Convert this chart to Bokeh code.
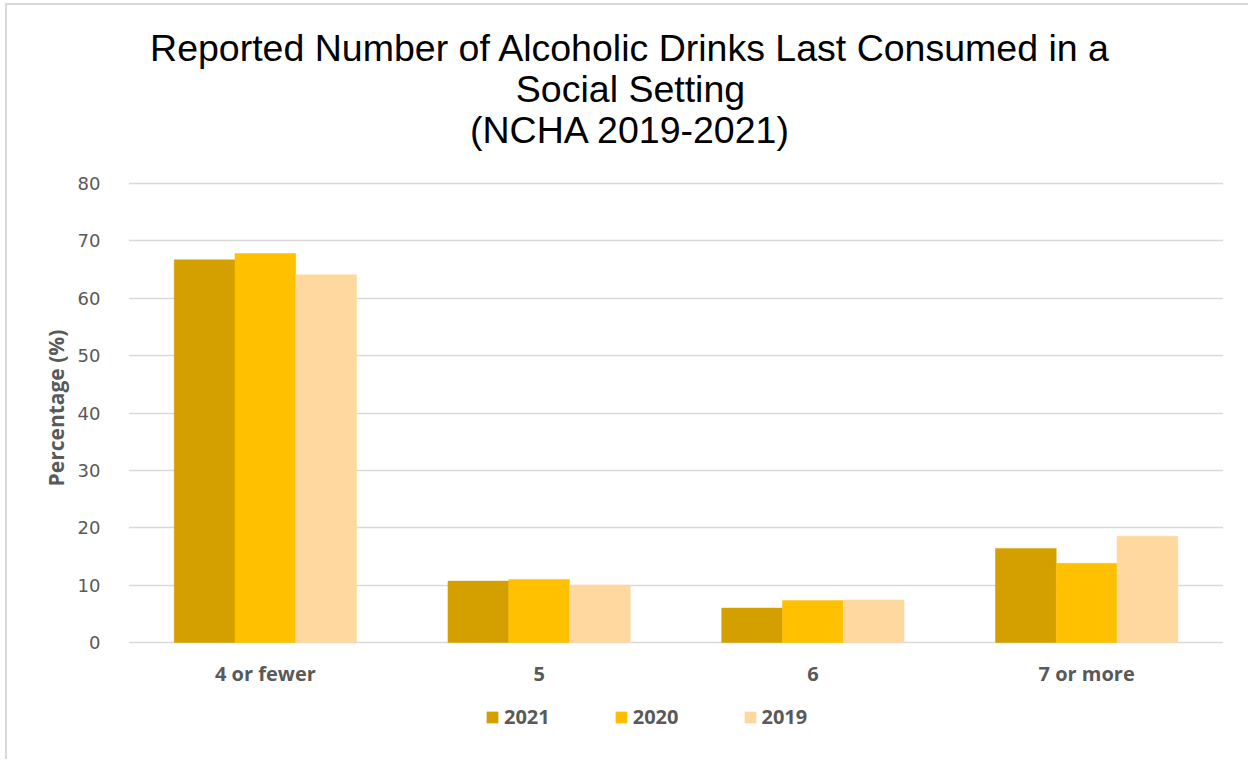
from bokeh.plotting import figure
from bokeh.models import (FactorRange, Range1d, FixedTicker, Legend, LegendItem,
                          Label, ColumnDataSource)
from bokeh.core.properties import value
from bokeh.transform import dodge
from bokeh.embed import file_html
from bokeh.resources import INLINE

categories = ["4 or fewer", "5", "6", "7 or more"]
series_names = ["2021", "2020", "2019"]
v2021 = [66.7, 10.7, 6.0, 16.4]
v2020 = [67.8, 11.0, 7.3, 13.8]
v2019 = [64.1, 10.0, 7.4, 18.5]
y_ticks = [0, 10, 20, 30, 40, 50, 60, 70, 80]
title_lines = ["Reported Number of Alcoholic Drinks Last Consumed in a",
               "Social Setting",
               "(NCHA 2019-2021)"]
y_label = "Percentage (%)"

colors = ["#D4A000", "#FFC000", "#FFD8A0"]

src = ColumnDataSource(dict(cat=categories, s2021=v2021, s2020=v2020, s2019=v2019,
                            base=[0] * len(categories)))

# frame spans the full height; y range chosen so 0..80 sits where the reference plot area is
px_per_unit = 459 / 80.0
y_start = -(756 - 637) / px_per_unit
y_end = 80 + 178 / px_per_unit

p = figure(width=1243, height=756, x_range=FactorRange(*categories),
           y_range=Range1d(y_start, y_end), output_backend="svg", toolbar_location=None,
           x_axis_location=None,
           min_border_left=121, min_border_right=27, min_border_top=0,
           min_border_bottom=0)
p.styles = {"position": "relative", "left": "7px", "top": "5px",
            "box-shadow": "-2px -2px 0 #d9d9d9"}
p.outline_line_color = None
p.background_fill_color = "white"
p.border_fill_color = "white"

cols = ["s2021", "s2020", "s2019"]
offsets = [-0.222, 0.0, 0.222]
renderers = []
for col, off, c in zip(cols, offsets, colors):
    r = p.vbar(x=dodge("cat", off, range=p.x_range), top=col, bottom=0, width=0.222,
               source=src, fill_color=c, line_color=c, line_width=0.5)
    renderers.append(r)

# grid
p.xgrid.grid_line_color = None
p.ygrid.grid_line_color = "#d9d9d9"
p.ygrid.grid_line_width = 1.3
p.yaxis.ticker = FixedTicker(ticks=y_ticks)
p.yaxis.bounds = (y_ticks[0], y_ticks[-1])

ax = p.yaxis[0]
ax.axis_line_color = None
ax.major_tick_line_color = None
ax.minor_tick_line_color = None
ax.major_label_text_color = "#595959"
ax.major_label_text_font = "DejaVu Sans"
ax.major_label_text_font_size = "18px"
ax.major_label_standoff = 22
# non-breaking spaces push the centred label down to the middle of the 0-80 area
ax.axis_label = y_label + "\u00a0" * 9
ax.axis_label_text_font = "Open Sans"
ax.axis_label_text_font_style = "bold"
ax.axis_label_text_font_size = "21px"
ax.axis_label_text_color = "#595959"
ax.axis_label_standoff = 5

# category labels under the bars
p.text(x="cat", y="base", text="cat", source=src, y_offset=31,
       text_align="center", text_baseline="middle",
       text_font=value("Open Sans"), text_font_style="bold",
       text_font_size="20px", text_color="#595959")

# legend
legend = Legend(items=[LegendItem(label=n, renderers=[r]) for n, r in zip(series_names, renderers)],
                orientation="horizontal", location=(357, 31), padding=0, margin=0, spacing=64,
                glyph_width=14, glyph_height=14, label_standoff=5,
                label_text_font="Open Sans", label_text_font_style="bold",
                label_text_font_size="20px", label_text_color="#595959",
                border_line_alpha=0, background_fill_alpha=0)
p.add_layout(legend, "center")

# title lines
title_y = [713.5, 672.5, 631.5]
for t, yy in zip(title_lines, title_y):
    p.add_layout(Label(x=502, y=yy, x_units="screen", y_units="screen", text=t,
                       text_align="center", text_baseline="alphabetic",
                       text_font="Liberation Sans", text_font_size="37.5px",
                       text_color="black"))

open("out.html", "w").write(file_html(p, INLINE))
